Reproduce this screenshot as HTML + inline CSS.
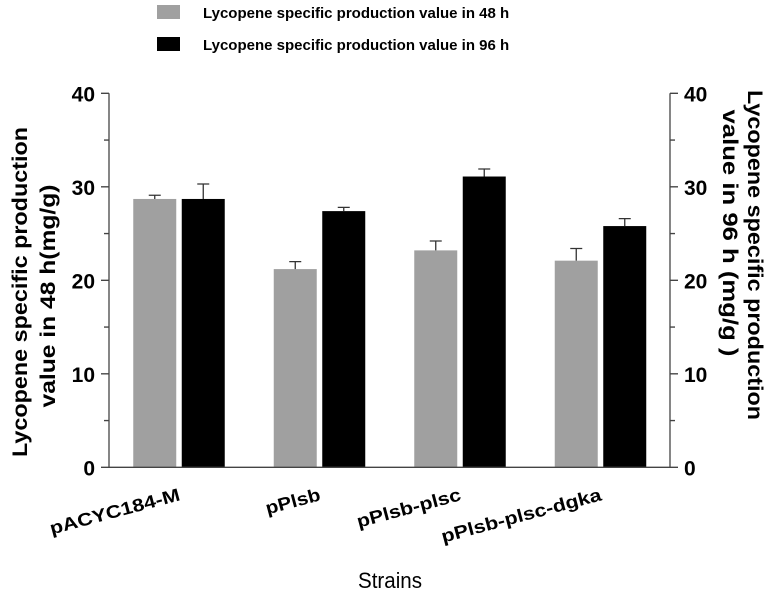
<!DOCTYPE html>
<html><head><meta charset="utf-8"><style>
html,body{margin:0;padding:0;background:#fff;}
svg{display:block;font-family:"Liberation Sans",Arial,sans-serif;}
</style></head><body>
<svg id="chart" width="774" height="595" xmlns="http://www.w3.org/2000/svg">
<g id="legend">
 <rect x="157" y="5" width="23" height="14" fill="#a0a0a0"/>
 <text x="203" y="18" font-size="15" font-weight="bold">Lycopene specific production value in 48 h</text>
 <rect x="157" y="37" width="23" height="14" fill="#000"/>
 <text x="203" y="50" font-size="15" font-weight="bold">Lycopene specific production value in 96 h</text>
</g>
<g id="bars"></g>
<g id="axes"></g>
<text transform="translate(27,292) rotate(-90)" text-anchor="middle" font-size="21" font-weight="bold" textLength="330" lengthAdjust="spacingAndGlyphs">Lycopene specific production</text>
<text transform="translate(55,296) rotate(-90)" text-anchor="middle" font-size="21" font-weight="bold" textLength="223" lengthAdjust="spacingAndGlyphs">value in 48 h(mg/g)</text>
<text transform="translate(748,255) rotate(90)" text-anchor="middle" font-size="21" font-weight="bold" textLength="330" lengthAdjust="spacingAndGlyphs">Lycopene specific production</text>
<text transform="translate(723,233) rotate(90)" text-anchor="middle" font-size="21" font-weight="bold" textLength="247" lengthAdjust="spacingAndGlyphs">value in 96 h (mg/g )</text>
<text x="390" y="588" text-anchor="middle" font-size="22" textLength="64" lengthAdjust="spacingAndGlyphs">Strains</text>
<script>
const categories=["pACYC184-M","pPlsb","pPlsb-plsc","pPlsb-plsc-dgka"];
const labelLengths=[134,56,107,165];
const values48=[28.7,21.2,23.2,22.1];
const errors48=[0.4,0.8,1.0,1.3];
const values96=[28.7,27.4,31.1,25.8];
const errors96=[1.6,0.4,0.8,0.8];
const yTicks=[0,10,20,30,40];
const NS="http://www.w3.org/2000/svg";
const x0=109,x1=670,yTop=93.3,yBot=467.3,yMax=40;
const y=v=>yBot-(v/yMax)*(yBot-yTop);
const groupX=i=>179+i*140.5;
const bw=43,gap=5.5;
function mk(tag,attrs,parent){const e=document.createElementNS(NS,tag);for(const k in attrs)e.setAttribute(k,attrs[k]);parent.appendChild(e);return e;}
const bars=document.getElementById('bars'),axes=document.getElementById('axes');
categories.forEach((c,i)=>{
 const cx=groupX(i);
 [[values48,errors48,'#a0a0a0',cx-gap/2-bw,'48h'],[values96,errors96,'#000',cx+gap/2,'96h']].forEach(([vals,errs,col,bx,s])=>{
  const r=mk('rect',{x:bx,y:y(vals[i]),width:bw,height:yBot-y(vals[i]),fill:col},bars);
  
  
  const mx=bx+bw/2;
  const l=mk('path',{d:`M${mx},${y(vals[i])}V${y(vals[i]+errs[i])}M${mx-6},${y(vals[i]+errs[i])}H${mx+6}`,stroke:'#333','stroke-width':1.3,fill:'none'},bars);
  
  
 });
 const t=mk('text',{transform:`translate(${cx+2},500) rotate(-15)`,'text-anchor':'end','font-size':18,'font-weight':'bold',textLength:labelLengths[i],lengthAdjust:'spacingAndGlyphs'},axes);
 t.textContent=c;
 
 
});
let a=mk('path',{d:`M${x0},${yTop}V${yBot}H${x1}V${yTop}`,stroke:'#444','stroke-width':1.3,fill:'none'},axes);


for(let v=0;v<=40;v+=5){
 const len=v%10===0?8:5;
 mk('path',{d:`M${x0-len},${y(v)}H${x0}M${x1},${y(v)}H${x1+len}`,stroke:'#444','stroke-width':1.3},axes);
}
yTicks.forEach(v=>{
 const l=mk('text',{x:x0-14,y:y(v)+8,'text-anchor':'end','font-size':21,'font-weight':'bold'},axes);
 l.textContent=v;
 
 
 const r=mk('text',{x:x1+14,y:y(v)+8,'text-anchor':'start','font-size':21,'font-weight':'bold'},axes);
 r.textContent=v;
 
 
});
</script>
</svg>
</body></html>
